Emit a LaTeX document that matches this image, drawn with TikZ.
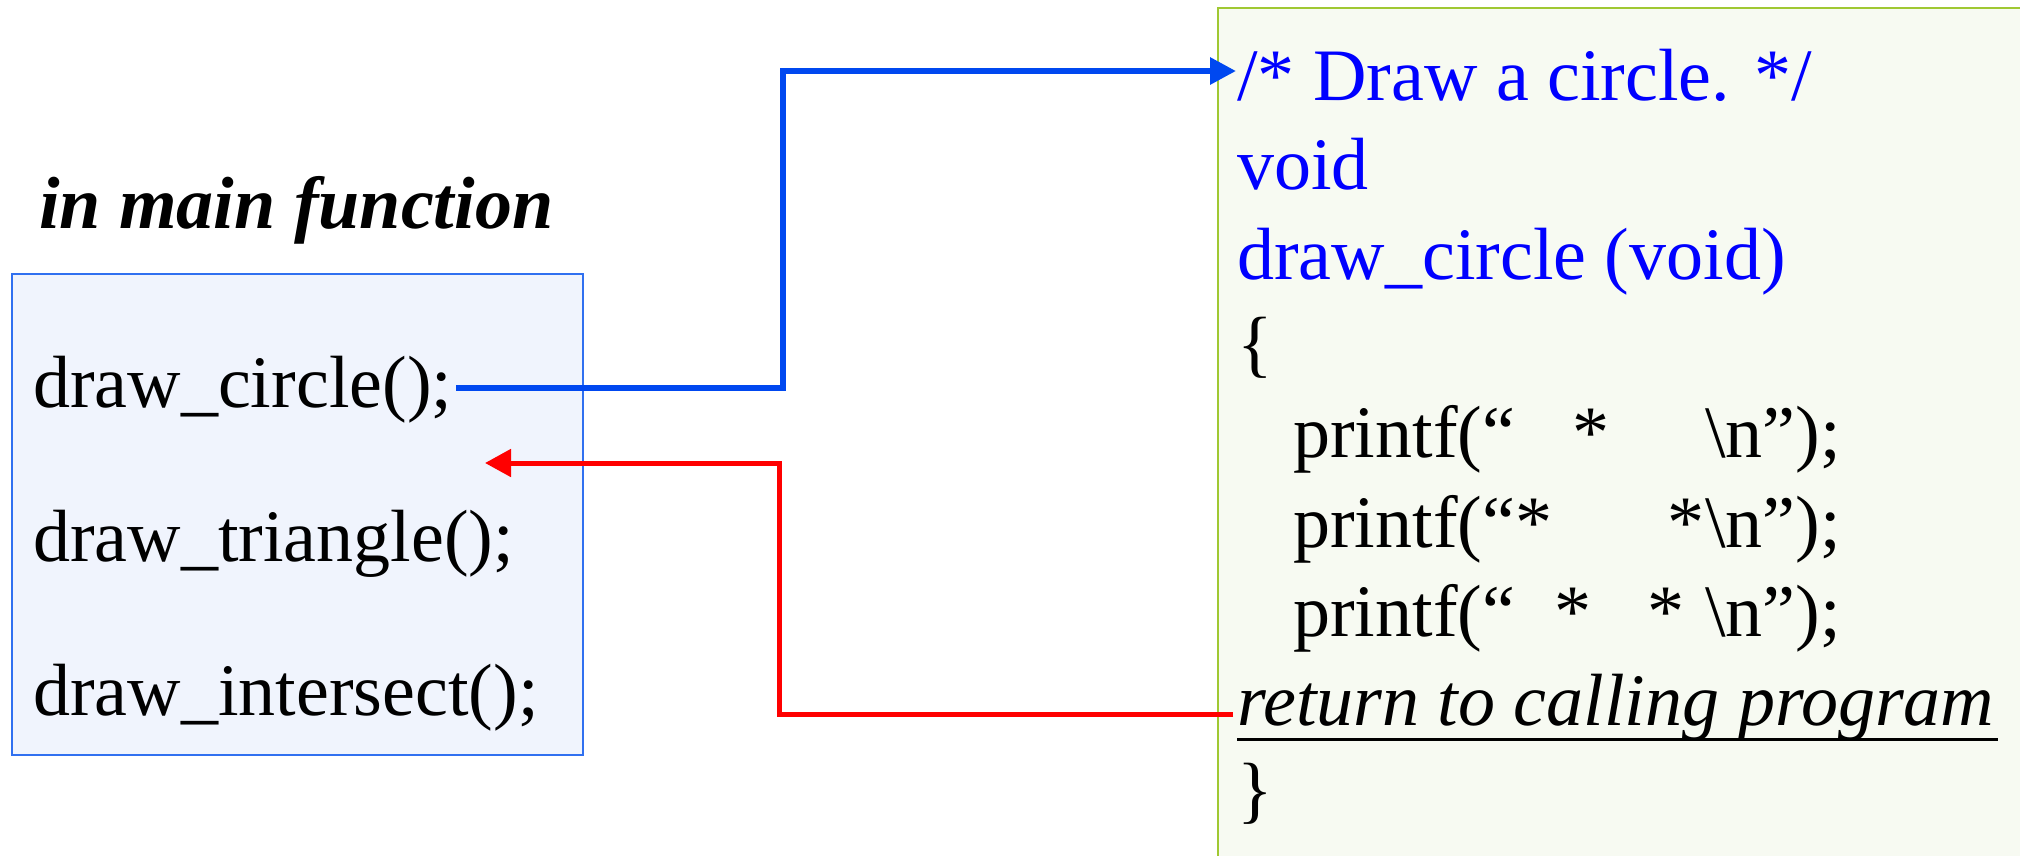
\documentclass[tikz,border=0pt]{standalone}
\usepackage{fontspec}
\setmainfont{Liberation Serif}
\usetikzlibrary{arrows.meta}
\definecolor{arrowblue}{RGB}{0,72,240}
\definecolor{textblue}{RGB}{0,0,255}
\definecolor{mainborder}{RGB}{48,112,240}
\definecolor{mainfill}{RGB}{240,244,253}
\definecolor{codeborder}{RGB}{160,200,50}
\definecolor{codefill}{RGB}{247,250,242}
\definecolor{retred}{RGB}{255,0,0}
\tikzset{
  txt/.style={inner sep=0pt, anchor=base west, font=\fontsize{74}{89}\selectfont},
  bluetxt/.style={txt, text=textblue},
  callarrow/.style={draw=arrowblue, line width=6pt, -{Triangle[length=26pt,width=26pt]}},
  retarrow/.style={draw=retred, line width=5pt, -{Triangle[length=26pt,width=27pt]}},
}
\begin{document}
\begin{tikzpicture}[x=1pt,y=-1pt]
\useasboundingbox (0,0) rectangle (2020,855);
% code box (clipped at the right and bottom)
\begin{scope}
\clip (0,0) rectangle (2020,855);
\node (codebox) [draw=codeborder, fill=codefill, line width=2pt, inner sep=0pt,
  minimum width=840pt, minimum height=880pt, anchor=north west] at (1217,7) {};
\end{scope}
% main box
\node (mainbox) [draw=mainborder, fill=mainfill, line width=2pt, inner sep=0pt,
  minimum width=571pt, minimum height=481pt, anchor=north west] at (11,273) {};
\node (heading) [txt, font=\fontsize{74}{89}\selectfont\bfseries\itshape] at (39,228) {in main function};
\node (call) [txt] at (33,407) {draw\_circle();};
\node (tri) [txt] at (33,561) {draw\_triangle();};
\node (inter) [txt] at (33,715) {draw\_intersect();};
% code lines
\node (c1) [bluetxt] at (1237,100) {/* Draw a circle. */};
\node (c2) [bluetxt] at (1237,189) {void};
\node (c3) [bluetxt] at (1237,279) {draw\_circle (void)};
\node (c4) [txt] at (1237,368) {\{};
\node (c5) [txt] at (1293,457) {\makebox[412pt][l]{printf(“\hspace*{57pt}*}\textbackslash n”);};
\node (c6) [txt] at (1293,547) {\makebox[412pt][l]{printf(“*\hspace*{115pt}*}\textbackslash n”);};
\node (c7) [txt] at (1293,636) {\makebox[412pt][l]{printf(“\hspace*{39pt}*\hspace*{56pt}*}\textbackslash n”);};
\node (ret) [txt, font=\fontsize{74}{89}\selectfont\itshape] at (1237,725) {return to calling program};
\node (c9) [txt] at (1237,814) {\}};
\draw[line width=3pt] ([yshift=-14pt]ret.base west) -- ([yshift=-14pt,xshift=3pt]ret.base east);
% call connector
\coordinate (bs) at ([xshift=4pt,yshift=19pt]call.base east);
\coordinate (be) at ([xshift=-1pt,yshift=29pt]c1.base west);
\coordinate (bx) at (783,0);
\draw[callarrow] (bs) -- (bs -| bx) |- (be);
% return connector
\coordinate (rs) at ([xshift=-4pt,yshift=11pt]ret.base west);
\coordinate (rt) at (485,463);
\coordinate (rx) at (779,0);
\draw[retarrow] (rs) -- (rs -| rx) |- (rt);
\end{tikzpicture}
\end{document}
